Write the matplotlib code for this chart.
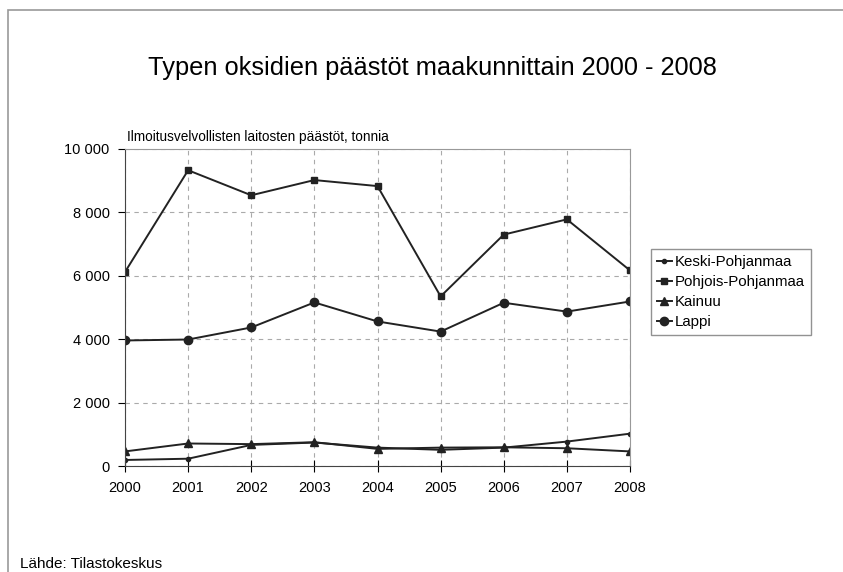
import matplotlib
matplotlib.use("Agg")
import matplotlib.pyplot as plt
from matplotlib.patches import Rectangle
from matplotlib.ticker import FuncFormatter

plt.rcParams['font.family'] = ['Liberation Sans', 'DejaVu Sans']

years = [2000, 2001, 2002, 2003, 2004, 2005, 2006, 2007, 2008]
keski = [190, 230, 665, 740, 580, 510, 580, 770, 1020]
pohjois = [6120, 9330, 8540, 9020, 8830, 5350, 7300, 7780, 6170]
kainuu = [460, 710, 690, 750, 540, 580, 590, 560, 460]
lappi = [3960, 3990, 4370, 5160, 4560, 4240, 5150, 4870, 5190]

fig = plt.figure(figsize=(8.43, 5.72), dpi=100)
# outer chart frame
fig.patches.append(Rectangle((8/843, -0.1), 1.2, 1 - 10/572 + 0.1, transform=fig.transFigure,
                             fill=False, edgecolor='#999999', lw=1.2))

ax = fig.add_axes([125/843, 1 - 466/572, 505/843, 317/572])
lc = '#222222'
ax.plot(years, keski, color=lc, lw=1.4, marker='o', ms=3, label='Keski-Pohjanmaa')
ax.plot(years, pohjois, color=lc, lw=1.4, marker='s', ms=5, label='Pohjois-Pohjanmaa')
ax.plot(years, kainuu, color=lc, lw=1.4, marker='^', ms=6, label='Kainuu')
ax.plot(years, lappi, color=lc, lw=1.4, marker='o', ms=6, label='Lappi')

ax.set_xlim(2000, 2008)
ax.set_ylim(0, 10000)
ax.set_xticks(years)
ax.set_yticks(range(0, 10001, 2000))
ax.yaxis.set_major_formatter(FuncFormatter(lambda v, p: f"{int(v):,}".replace(",", " ")))
ax.grid(True, color='#aaaaaa', ls=(0, (4, 4)), lw=0.8)
ax.tick_params(axis='x', direction='inout', length=8, labelsize=10.5, pad=7)
ax.tick_params(axis='y', direction='out', length=5, labelsize=10.5, pad=6)
for s in ['top', 'right']:
    ax.spines[s].set_color('#999999')
for s in ['left', 'bottom']:
    ax.spines[s].set_color('#444444')

leg = ax.legend(loc='upper left', bbox_to_anchor=(651/505 - 125/505, (466 - 249)/317),
                frameon=True, fancybox=False, edgecolor='#777777', fontsize=10.8,
                handlelength=1.0, handletextpad=0.2, borderpad=0.4, labelspacing=0.4,
                borderaxespad=0)

fig.text(432/843, 1 - 68/572, 'Typen oksidien päästöt maakunnittain 2000 - 2008',
         ha='center', va='center', fontsize=18.3)
fig.text(127/843, 1 - 137/572, 'Ilmoitusvelvollisten laitosten päästöt, tonnia',
         ha='left', va='center', fontsize=9.8)
fig.text(20/843, 1 - 564/572, 'Lähde: Tilastokeskus', ha='left', va='center', fontsize=11)

fig.savefig('out.png', dpi=100)
